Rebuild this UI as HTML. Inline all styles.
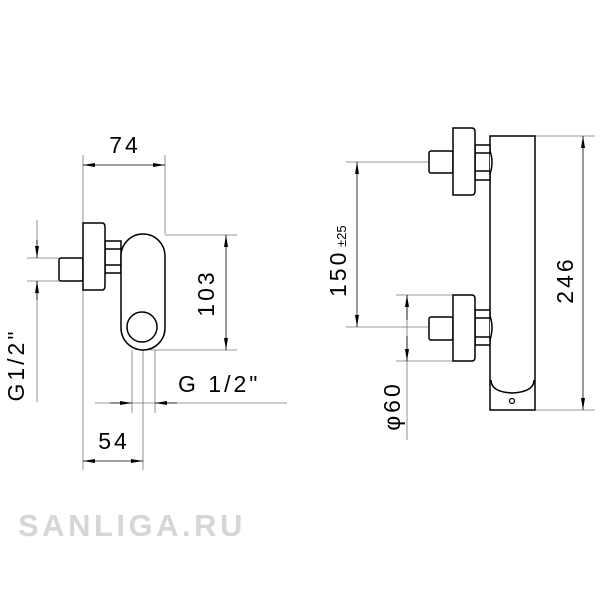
<!DOCTYPE html>
<html><head><meta charset="utf-8"><style>html,body{margin:0;padding:0;background:#fff}svg{display:block}</style></head>
<body>
<svg width="600" height="600" viewBox="0 0 600 600" xmlns="http://www.w3.org/2000/svg" font-family="Liberation Sans, sans-serif">
<defs>
<marker id="a" viewBox="0 0 12 4" refX="12" refY="2" markerWidth="12" markerHeight="4" orient="auto-start-reverse" markerUnits="userSpaceOnUse"><path d="M0,0 L12,2 L0,4 Z" fill="#000"/></marker>
</defs>
<g stroke="#777" stroke-width="0.8" fill="none">
<line x1="83" y1="155" x2="83" y2="470"/>
<line x1="165" y1="155" x2="165" y2="234"/>
<line x1="165" y1="235" x2="237" y2="235"/>
<line x1="150" y1="350" x2="237" y2="350"/>
<line x1="27" y1="258" x2="59" y2="258"/>
<line x1="27" y1="281" x2="59" y2="281"/>
<line x1="37" y1="220" x2="37" y2="258"/>
<line x1="37" y1="281" x2="37" y2="402"/>
<line x1="95" y1="403" x2="287" y2="403"/>
<line x1="132" y1="350" x2="132" y2="413"/>
<line x1="143" y1="350" x2="143" y2="470"/>
<line x1="155" y1="350" x2="155" y2="413"/>
<line x1="346" y1="162" x2="429" y2="162"/>
<line x1="346" y1="327" x2="429" y2="327"/>
<line x1="396" y1="295" x2="453" y2="295"/>
<line x1="396" y1="361" x2="453" y2="361"/>
<line x1="407" y1="295" x2="407" y2="440"/>
<line x1="535" y1="136" x2="595" y2="136"/>
<line x1="535" y1="410" x2="595" y2="410"/>
</g>
<g stroke="#000" stroke-width="0.8" fill="none">
<line x1="83" y1="165" x2="165" y2="165" marker-start="url(#a)" marker-end="url(#a)"/>
<line x1="226" y1="235" x2="226" y2="350" marker-start="url(#a)" marker-end="url(#a)"/>
<line x1="37" y1="240" x2="37" y2="258" marker-end="url(#a)"/>
<line x1="37" y1="300" x2="37" y2="281" marker-end="url(#a)"/>
<line x1="110" y1="403" x2="132" y2="403" marker-end="url(#a)"/>
<line x1="177" y1="403" x2="155" y2="403" marker-end="url(#a)"/>
<line x1="83" y1="461" x2="143" y2="461" marker-start="url(#a)" marker-end="url(#a)"/>
<line x1="357" y1="162" x2="357" y2="327" marker-start="url(#a)" marker-end="url(#a)"/>
<line x1="407" y1="320" x2="407" y2="295" marker-end="url(#a)"/>
<line x1="407" y1="336" x2="407" y2="361" marker-end="url(#a)"/>
<line x1="583" y1="136" x2="583" y2="410" marker-start="url(#a)" marker-end="url(#a)"/>
</g>
<g stroke="#000" stroke-width="1.5" fill="#fff">
<rect x="59" y="258" width="24" height="23" rx="2"/>
<rect x="105" y="241" width="16" height="32"/>
<line x1="105" y1="249" x2="121" y2="249"/>
<line x1="105" y1="265" x2="121" y2="265"/>
<path d="M83,223 H102 Q105,223 105,227 V286 Q105,290 102,290 H83 Z"/>
<rect x="121" y="234" width="44" height="116" rx="22"/>
<circle cx="142" cy="327" r="15"/>
</g>
<g stroke="#000" stroke-width="1.5" fill="#fff">
<rect x="490" y="136" width="45" height="274"/>
<path d="M491,380 Q491,392 512,393 Q534,392 534,380"/>
<circle cx="512" cy="401" r="2.5" stroke-width="1.2"/>
<rect x="429" y="151" width="24" height="22" rx="2"/>
<rect x="475" y="145" width="15" height="35"/>
<line x1="475" y1="153" x2="490" y2="153"/><line x1="475" y1="171" x2="490" y2="171"/>
<path d="M490,151 Q494,162 490,174"/>
<path d="M453,128 H472 Q475,128 475,132 V191 Q475,195 472,195 H453 Z"/>
<rect x="429" y="317" width="24" height="23" rx="2"/>
<rect x="475" y="310" width="15" height="35"/>
<line x1="475" y1="318" x2="490" y2="318"/><line x1="475" y1="337" x2="490" y2="337"/>
<path d="M490,316 Q494,327 490,340"/>
<path d="M453,295 H472 Q475,295 475,299 V357 Q475,361 472,361 H453 Z"/>
</g>
<g fill="#000" font-size="23" letter-spacing="3">
<text x="125" y="153" text-anchor="middle">74</text>
<text transform="translate(214,293) rotate(-90)" text-anchor="middle">103</text>
<text transform="translate(24,365) rotate(-90)" text-anchor="middle">G1/2"</text>
<text x="178" y="392">G 1/2"</text>
<text x="114" y="449" text-anchor="middle">54</text>
<text transform="translate(346,297) rotate(-90)">150</text>
<text transform="translate(346,247) rotate(-90)" font-size="13" letter-spacing="0">±25</text>
<text transform="translate(400,406) rotate(-90)" text-anchor="middle">φ60</text>
<text transform="translate(573,280) rotate(-90)" text-anchor="middle">246</text>
</g>
<text x="18" y="536" font-size="31" font-weight="bold" fill="#d6d6d6" letter-spacing="3.5">SANLIGA.RU</text>
</svg>
</body></html>
